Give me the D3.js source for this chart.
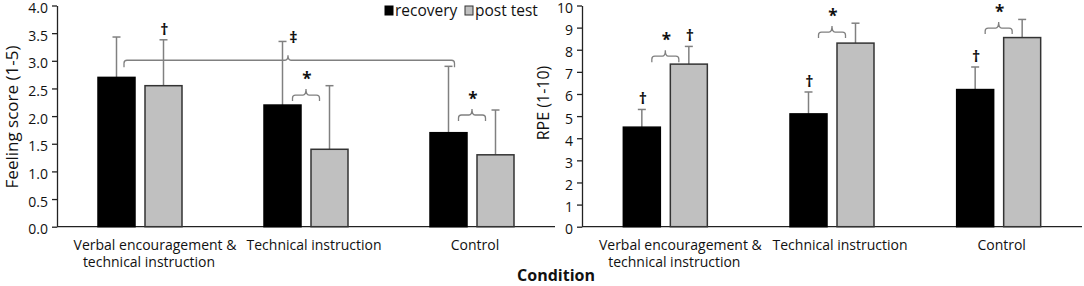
<!DOCTYPE html>
<html><head><meta charset="utf-8">
<script src="https://cdn.jsdelivr.net/npm/d3@7/dist/d3.min.js"></script>
<style>body{margin:0;background:#fff}svg{display:block;font-family:"Open Sans",sans-serif}</style>
</head><body><svg id="c" width="1084" height="286"></svg>
<script>
const categories = ["Verbal encouragement & technical instruction", "Technical instruction", "Control"];
const categoryLines = [["Verbal encouragement &", "technical instruction"], ["Technical instruction"], ["Control"]];
const seriesNames = ["recovery", "post test"];
const feelingRecovery = [2.7, 2.2, 1.7];
const feelingPost = [2.55, 1.4, 1.3];
const feelingRecoveryErr = [3.43, 3.35, 2.9];
const feelingPostErr = [3.38, 2.55, 2.11];
const rpeRecovery = [4.5, 5.1, 6.2];
const rpePost = [7.35, 8.3, 8.55];
const rpeRecoveryErr = [5.3, 6.09, 7.22];
const rpePostErr = [8.15, 9.2, 9.37];
const feelingTicks = [0, 0.5, 1, 1.5, 2, 2.5, 3, 3.5, 4];
const rpeTicks = [0, 1, 2, 3, 4, 5, 6, 7, 8, 9, 10];
// annotations: [category index, series index, symbol]
const feelingMarks = [[0, 1, "†"], [1, 0, "‡"]];
const rpeMarks = [[0, 0, "†"], [0, 1, "†"], [1, 0, "†"], [2, 0, "†"]];
// pair brackets: [category index, level in data units]
const feelingPairs = [[1, 2.38], [2, 2.02]];
const rpePairs = [[0, 7.71], [1, 8.8], [2, 8.98]];
const feelingBigBracket = 3.01;

const svg = d3.select("#c");
const colors = ["#000000", "#c0c0c0"];
const strokes = ["#000000", "#333333"];
// label offsets per category (line1, line2)
const labelShift = [[15, 9], [8], [3]];

function panel(opt) {
  const x = d3.scaleBand().domain(categories).range([opt.x0, opt.x1]);
  const y = d3.scaleLinear().domain(opt.domain).range([226.7, 5.5]);
  const g = svg.append("g");
  const barW = 37, gap = 10;
  const barX = (i, s) => x(categories[i]) + x.bandwidth() / 2 + (s === 0 ? -gap / 2 - barW : gap / 2);
  // y axis
  const ax = g.append("g").attr("transform", `translate(${opt.x0},0)`)
    .call(d3.axisLeft(y).tickValues(opt.ticks).tickFormat(opt.fmt).tickSize(5).tickSizeOuter(0).tickPadding(4));
  ax.select(".domain").attr("stroke", "#222").attr("stroke-width", 1.3);
  ax.selectAll(".tick line").attr("stroke", "#222").attr("stroke-width", 1.3);
  ax.selectAll(".tick text").attr("font-size", 14).attr("fill", "#111").attr("font-family", "Open Sans").attr("dy", "0.5em");
  // baseline
  g.append("line").attr("x1", opt.x0).attr("x2", opt.x1).attr("y1", y(0)).attr("y2", y(0))
    .attr("stroke", "#222").attr("stroke-width", 1.3);
  // y label
  g.append("text").attr("transform", `translate(${opt.labelX},${opt.labelY}) rotate(-90)`)
    .attr("text-anchor", "middle").attr("dy", "0.35em").attr("font-size", opt.labelSize).attr("fill", "#111").text(opt.label);
  // category labels
  categories.forEach((c, i) => {
    const cx = x(c) + x.bandwidth() / 2;
    const t = g.append("text").attr("y", 250).attr("text-anchor", "middle").attr("font-size", 14).attr("fill", "#111");
    categoryLines[i].forEach((l, k) => t.append("tspan").attr("x", cx + labelShift[i][k]).attr("dy", k ? 17 : 0).text(l));
  });
  // bars
  [opt.rec, opt.post].forEach((vals, s) => {
    const errs = s === 0 ? opt.recErr : opt.postErr;
    vals.forEach((v, i) => {
      const bx = barX(i, s), cx = bx + barW / 2;
      g.append("line").attr("x1", cx).attr("x2", cx).attr("y1", y(v)).attr("y2", y(errs[i]))
        .attr("stroke", "#808080").attr("stroke-width", 1.5);
      g.append("line").attr("x1", cx - 4).attr("x2", cx + 4).attr("y1", y(errs[i])).attr("y2", y(errs[i]))
        .attr("stroke", "#808080").attr("stroke-width", 1.5);
      g.append("rect").attr("x", bx).attr("y", y(v)).attr("width", barW).attr("height", y(0) - y(v))
        .attr("fill", colors[s]).attr("stroke", strokes[s]).attr("stroke-width", 1.5);
    });
  });
  // markers
  opt.marks.forEach(([i, s, sym]) => {
    const err = (s === 0 ? opt.recErr : opt.postErr)[i];
    const cx = barX(i, s) + barW / 2 + (sym === "‡" ? 11 : 1);
    const cy = y(err) - (sym === "‡" ? 4 : 11);
    g.append("text").attr("x", cx).attr("y", cy).attr("dy", "0.36em").attr("text-anchor", "middle")
      .attr("font-size", 16).attr("font-weight", "bold").attr("fill", "#111").text(sym);
  });
  // pair brackets
  const bracket = (xa, xb, xm, yy, drop, rise) => {
    const r = 3;
    return `M${xa},${yy + drop} L${xa},${yy + r} Q${xa},${yy} ${xa + r},${yy} L${xm - 3},${yy} Q${xm},${yy} ${xm},${yy - rise} Q${xm},${yy} ${xm + 3},${yy} L${xb - r},${yy} Q${xb},${yy} ${xb},${yy + r} L${xb},${yy + drop}`;
  };
  opt.pairs.forEach(([i, lvl]) => {
    const c = x(categories[i]) + x.bandwidth() / 2;
    const yy = y(lvl);
    g.append("path").attr("d", bracket(c - 13.5, c + 13.5, c, yy, 6, 6))
      .attr("fill", "none").attr("stroke", "#808080").attr("stroke-width", 1.3);
    g.append("text").attr("x", c + 1).attr("y", yy - 16).attr("dy", "0.36em").attr("text-anchor", "middle")
      .attr("font-size", 17).attr("font-weight", "bold").attr("fill", "#111").text("*");
  });
  if (opt.big != null) {
    const xa = barX(0, 0) + barW / 2 + 7.5, xb = barX(2, 0) + barW / 2 + 6, xm = barX(1, 0) + barW / 2 + 5.5;
    g.append("path").attr("d", bracket(xa, xb, xm, y(opt.big), 7, 5))
      .attr("fill", "none").attr("stroke", "#808080").attr("stroke-width", 1.3);
  }
}

panel({x0: 57, x1: 555, domain: [0, 4], ticks: feelingTicks, fmt: d3.format(".1f"),
  rec: feelingRecovery, post: feelingPost, recErr: feelingRecoveryErr, postErr: feelingPostErr,
  label: "Feeling score (1-5)", labelX: 12, labelY: 117, labelSize: 17, marks: feelingMarks, pairs: feelingPairs, big: feelingBigBracket});
panel({x0: 582, x1: 1082, domain: [0, 10], ticks: rpeTicks, fmt: d3.format("d"),
  rec: rpeRecovery, post: rpePost, recErr: rpeRecoveryErr, postErr: rpePostErr,
  label: "RPE (1-10)", labelX: 543, labelY: 103, labelSize: 16, marks: rpeMarks, pairs: rpePairs, big: null});

// legend
const leg = svg.append("g");
const legX = [385, 465];
seriesNames.forEach((n, s) => {
  leg.append("rect").attr("x", legX[s]).attr("y", 6).attr("width", 8).attr("height", 9)
    .attr("fill", colors[s]).attr("stroke", strokes[s]).attr("stroke-width", 1);
  leg.append("text").attr("x", legX[s] + 10).attr("y", 16).attr("font-size", 15.5).attr("fill", "#111").text(n);
});
// x title
svg.append("text").attr("x", 556).attr("y", 281).attr("text-anchor", "middle").attr("font-size", 16)
  .attr("font-weight", "bold").attr("fill", "#111").text("Condition");
</script></body></html>
